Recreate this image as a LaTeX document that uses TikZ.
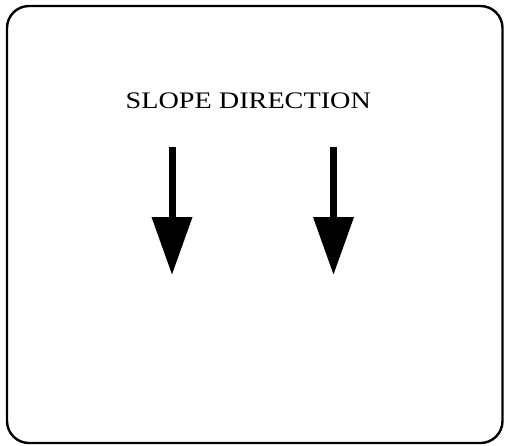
\documentclass[tikz,border=0pt]{standalone}
\usepackage{fontspec}
\setmainfont{Liberation Serif}
\usetikzlibrary{arrows.meta}
\begin{document}
\begin{tikzpicture}[x=1pt,y=-1pt,
  frame/.style={draw=black,line width=2.4pt,rounded corners=22pt},
  slopearrow/.style={draw=black,line width=7pt,-{Triangle[length=58pt,width=39pt]}},
  label/.style={font=\fontsize{23.7}{28}\selectfont,xscale=1.19,anchor=base,inner sep=0pt}]
\useasboundingbox (0,0) rectangle (505,445);
\draw[frame] (7,6) rectangle (502.5,443);
\node[label] (title) at (248.3,108.3) {SLOPE DIRECTION};
\coordinate (a1s) at (172,147);
\coordinate (a1e) at (172,275);
\coordinate (a2s) at (333.5,147);
\coordinate (a2e) at (333.5,275);
\draw[slopearrow] (a1s) -- (a1e);
\draw[slopearrow] (a2s) -- (a2e);
\end{tikzpicture}
\end{document}
